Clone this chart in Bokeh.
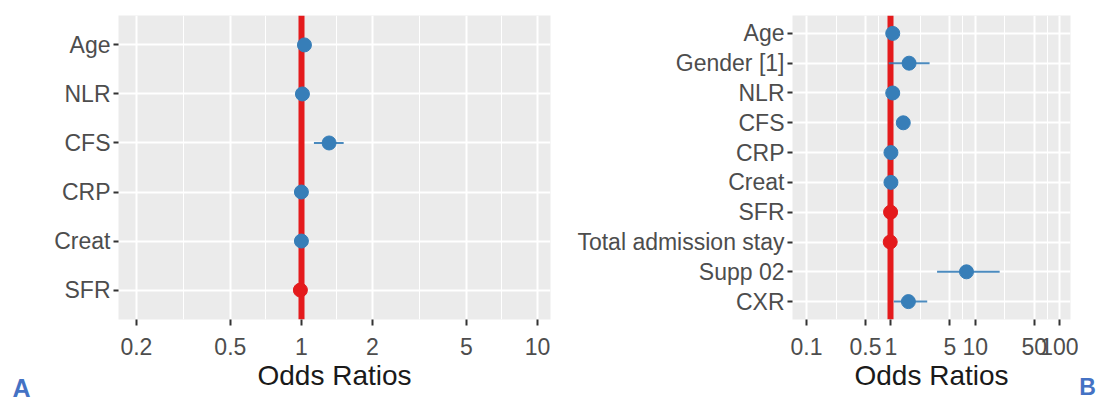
import math
from bokeh.plotting import figure
from bokeh.models import (Range1d, FactorRange, FixedTicker, NumeralTickFormatter,
                          ColumnDataSource)
from bokeh.layouts import row
from bokeh.embed import file_html
from bokeh.resources import INLINE

# ---- data: panel A ----
a_terms = ["Age", "NLR", "CFS", "CRP", "Creat", "SFR"]
a_or = [1.03, 1.01, 1.31, 1.00, 1.00, 0.99]
a_lo = [1.00, 0.98, 1.13, 0.98, 0.98, 0.97]
a_hi = [1.06, 1.04, 1.51, 1.02, 1.02, 1.01]
a_ticks = [0.2, 0.5, 1, 2, 5, 10]

# ---- data: panel B ----
b_terms = ["Age", "Gender [1]", "NLR", "CFS", "CRP", "Creat", "SFR",
           "Total admission stay", "Supp 02", "CXR"]
b_or = [1.05, 1.64, 1.05, 1.40, 1.00, 1.00, 0.99, 0.98, 7.85, 1.61]
b_lo = [1.00, 0.94, 1.00, 1.30, 0.97, 0.97, 0.96, 0.95, 3.52, 1.08]
b_hi = [1.10, 2.87, 1.10, 1.50, 1.03, 1.03, 1.02, 1.01, 19.4, 2.69]
b_ticks = [0.1, 0.5, 1, 5, 10, 50, 100]

panel_tags = ["A", "B"]

BLUE = "#377EB8"
RED = "#E41A1C"
FONT = "Liberation Sans"
H = 404


def panel(terms, ors, los, his, ticks, x0, x1, width, bl, br, bt, bb):
    minor = [math.sqrt(ticks[i] * ticks[i + 1]) for i in range(len(ticks) - 1)]
    yr = FactorRange(factors=list(reversed(terms)), range_padding=0.1,
                     range_padding_units="absolute")
    p = figure(width=width, height=H, x_axis_type="log",
               x_range=Range1d(x0, x1), y_range=yr,
               output_backend="svg", toolbar_location=None,
               min_border_left=bl, min_border_right=br,
               min_border_top=bt, min_border_bottom=bb)
    p.background_fill_color = "#EBEBEB"
    p.border_fill_color = "white"
    p.outline_line_color = None

    ticker = FixedTicker(ticks=ticks, minor_ticks=minor)
    p.xaxis.ticker = ticker
    p.xgrid.ticker = ticker
    p.xaxis.formatter = NumeralTickFormatter(format="0.[0]")
    p.xgrid.grid_line_color = "white"
    p.xgrid.grid_line_width = 2
    p.xgrid.minor_grid_line_color = "white"
    p.xgrid.minor_grid_line_width = 1
    p.ygrid.grid_line_color = "white"
    p.ygrid.grid_line_width = 2

    for ax in (p.xaxis[0], p.yaxis[0]):
        ax.axis_line_color = None
        ax.minor_tick_line_color = None
        ax.major_tick_line_color = "#333333"
        ax.major_tick_line_width = 2
        ax.major_tick_in = 0
        ax.major_label_text_font = FONT
        ax.major_label_text_font_size = "23px"
        ax.major_label_text_color = "#4D4D4D"
    p.xaxis.major_tick_out = 6
    p.xaxis.major_label_standoff = 12
    p.yaxis.major_tick_out = 5
    p.yaxis.major_label_standoff = 3

    p.xaxis.axis_label = "Odds Ratios"
    p.xaxis.axis_label_text_font = FONT
    p.xaxis.axis_label_text_font_size = "28px"
    p.xaxis.axis_label_text_font_style = "normal"
    p.xaxis.axis_label_text_color = "#1A1A1A"
    p.xaxis.axis_label_standoff = 2

    cols = [RED if v < 1 else BLUE for v in ors]
    src = ColumnDataSource(dict(term=terms, est=ors, lo=los, hi=his, col=cols))
    p.vspan(x=[1], line_color=RED, line_width=6)
    p.segment(x0="lo", y0="term", x1="hi", y1="term", source=src,
              line_color="col", line_width=2, line_alpha=0.9)
    p.scatter(x="est", y="term", source=src, size=14, fill_color="col",
              line_color="col")
    return p


def tag_strip(tag, width, size):
    # narrow blank figure whose (tick-less) x-axis title carries the panel tag
    f = figure(width=width, height=H, x_range=Range1d(0, 1),
               y_range=Range1d(0, 1), output_backend="svg",
               toolbar_location=None, y_axis_location=None,
               min_border_left=0, min_border_right=0,
               min_border_top=15, min_border_bottom=84)
    f.outline_line_color = None
    f.grid.visible = False
    f.background_fill_color = "white"
    f.border_fill_color = "white"
    ax = f.xaxis[0]
    ax.ticker = FixedTicker(ticks=[])
    ax.axis_line_color = None
    ax.major_tick_line_color = None
    ax.minor_tick_line_color = None
    ax.major_tick_out = 0
    ax.major_label_standoff = 0
    ax.axis_label = tag
    ax.axis_label_text_font = FONT
    ax.axis_label_text_font_size = size
    ax.axis_label_text_font_style = "bold"
    ax.axis_label_text_color = "#4472C4"
    ax.axis_label_standoff = 54
    return f


fa = tag_strip(panel_tags[0], 42, "25px")
pa = panel(a_terms, a_or, a_lo, a_hi, a_ticks, 0.168, 11.35,
           518, 76, 10, 15, 84)
pb = panel(b_terms, b_or, b_lo, b_hi, b_ticks, 0.0682, 134,
           518, 232, 8, 14, 84)
fb = tag_strip(panel_tags[1], 18, "23px")

layout = row(fa, pa, pb, fb)
open("out.html", "w").write(file_html(layout, INLINE))
